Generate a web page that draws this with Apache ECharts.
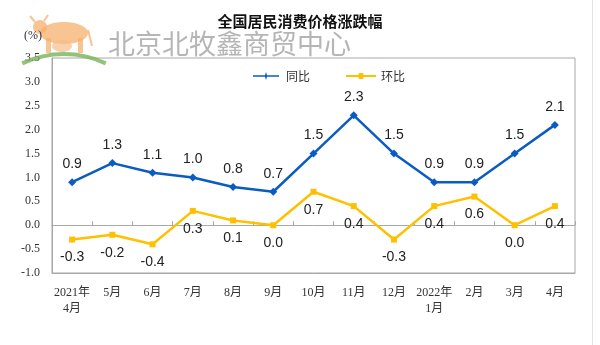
<!DOCTYPE html>
<html>
<head>
<meta charset="utf-8">
<script src="https://cdn.jsdelivr.net/npm/echarts@6/dist/echarts.min.js"></script>
<style>
  html, body { margin: 0; padding: 0; background: #fff; }
  #chart { width: 600px; height: 345px; }
</style>
</head>
<body>
<div id="chart"></div>
<script>
// Months shown along the bottom axis
const months = ['2021年\n4月', '5月', '6月', '7月', '8月', '9月', '10月', '11月', '12月', '2022年\n1月', '2月', '3月', '4月'];
// Year-on-year change (%)
const yoy = [0.9, 1.3, 1.1, 1.0, 0.8, 0.7, 1.5, 2.3, 1.5, 0.9, 0.9, 1.5, 2.1];
// Month-on-month change (%)
const mom = [-0.3, -0.2, -0.4, 0.3, 0.1, 0.0, 0.7, 0.4, -0.3, 0.4, 0.6, 0.0, 0.4];

const serif = '"Liberation Serif", "Times New Roman", "Noto Sans CJK SC", serif';
const sans = '"Liberation Sans", Arial, "Noto Sans CJK SC", sans-serif';
const cjk = '"Noto Sans CJK SC", sans-serif';

const chart = echarts.init(document.getElementById('chart'), null, { renderer: 'canvas' });

const tan = 'rgba(245,176,110,0.75)';

chart.setOption({
  animation: false,
  backgroundColor: '#fff',
  title: {
    text: '全国居民消费价格涨跌幅',
    left: 'center',
    top: 9,
    textStyle: { fontFamily: cjk, fontSize: 15, fontWeight: 'bold', color: '#111' }
  },
  legend: {
    top: 65,
    left: 248,
    itemWidth: 30,
    itemHeight: 8,
    itemGap: 36,
    textStyle: { fontFamily: cjk, fontSize: 12, color: '#333' },
    data: [
      { name: '同比', icon: 'path://M0,3.2 L12,3.2 L13,0 L14,3.2 L26,3.2 L26,4.8 L14,4.8 L13,8 L12,4.8 L0,4.8 Z' },
      { name: '环比', icon: 'path://M0,3.2 L11,3.2 L11,1.5 L15,1.5 L15,3.2 L26,3.2 L26,4.8 L15,4.8 L15,6.5 L11,6.5 L11,4.8 L0,4.8 Z' }
    ]
  },
  grid: {
    left: 52, right: 25, top: 58, bottom: 72,
    show: true, borderColor: '#a8a8a8', borderWidth: 1
  },
  xAxis: [
    {
      type: 'category',
      data: months,
      position: 'bottom',
      axisLine: { onZero: false, lineStyle: { color: '#a8a8a8' } },
      axisTick: { show: false },
      axisLabel: { interval: 0, fontFamily: serif, fontSize: 12, color: '#333', margin: 12, lineHeight: 16 }
    },
    {
      type: 'category',
      data: months,
      position: 'bottom',
      axisLine: { onZero: true, lineStyle: { color: '#a8a8a8' } },
      axisTick: { show: true, inside: true, length: 4, interval: 0, lineStyle: { color: '#a8a8a8' } },
      axisLabel: { show: false }
    }
  ],
  yAxis: {
    type: 'value',
    min: -1.0,
    max: 3.5,
    interval: 0.5,
    splitLine: { show: false },
    axisLine: { show: true, lineStyle: { color: '#a8a8a8' } },
    axisTick: { show: false },
    axisLabel: {
      fontFamily: serif, fontSize: 12, color: '#333', margin: 12,
      formatter: v => v.toFixed(1)
    }
  },
  series: [
    {
      name: '同比',
      type: 'line',
      data: yoy,
      symbol: 'diamond',
      symbolSize: 8,
      itemStyle: { color: '#0a5cc4' },
      lineStyle: { color: '#0a5cc4', width: 2.5 },
      label: {
        show: true, position: 'top', distance: 7,
        fontFamily: sans, fontSize: 14, color: '#222',
        formatter: p => p.value.toFixed(1)
      },
      z: 3
    },
    {
      name: '环比',
      type: 'line',
      data: mom,
      symbol: 'rect',
      symbolSize: 6,
      itemStyle: { color: '#ffc000' },
      lineStyle: { color: '#ffc000', width: 2.5 },
      label: {
        show: true, position: 'bottom', distance: 8,
        fontFamily: sans, fontSize: 14, color: '#222',
        formatter: p => p.value.toFixed(1)
      },
      z: 3
    }
  ],
  graphic: [
    // unit caption above the value axis
    { type: 'text', left: 24, top: 30, z: 10,
      style: { text: '(%)', fontFamily: serif, fontSize: 12, fill: '#333' } },
    // faint outer frame line on the right
    { type: 'line', shape: { x1: 592.5, y1: 0, x2: 592.5, y2: 345 },
      style: { stroke: '#e4e4e4', lineWidth: 1 } },
    // badge: grass arc
    { type: 'arc', shape: { cx: 64, cy: 152, r: 98, startAngle: Math.PI * 1.36, endAngle: Math.PI * 1.64 },
      style: { stroke: 'rgba(120,180,90,0.8)', lineWidth: 4, fill: null }, z: 1 },
    // badge: cattle silhouette
    { type: 'group', z: 1, children: [
      { type: 'ellipse', shape: { cx: 64, cy: 33, rx: 24, ry: 11 }, style: { fill: tan } },
      { type: 'circle', shape: { cx: 40, cy: 27, r: 7 }, style: { fill: tan } },
      { type: 'line', shape: { x1: 35, y1: 22, x2: 30, y2: 16 }, style: { stroke: tan, lineWidth: 2 } },
      { type: 'line', shape: { x1: 44, y1: 21, x2: 48, y2: 15 }, style: { stroke: tan, lineWidth: 2 } },
      { type: 'rect', shape: { x: 46, y: 38, width: 5, height: 15 }, style: { fill: tan } },
      { type: 'rect', shape: { x: 78, y: 38, width: 5, height: 15 }, style: { fill: tan } },
      { type: 'ellipse', shape: { cx: 62, cy: 46, rx: 10, ry: 6 }, style: { fill: 'rgba(245,190,140,0.7)' } },
      { type: 'line', shape: { x1: 88, y1: 30, x2: 92, y2: 46 }, style: { stroke: tan, lineWidth: 2 } }
    ]},
    // badge name
    { type: 'text', left: 108, top: 30, z: 2,
      style: { text: '北京北牧鑫商贸中心', fontFamily: cjk, fontSize: 27, fill: 'rgba(150,150,150,0.7)' } }
  ]
});
</script>
</body>
</html>
